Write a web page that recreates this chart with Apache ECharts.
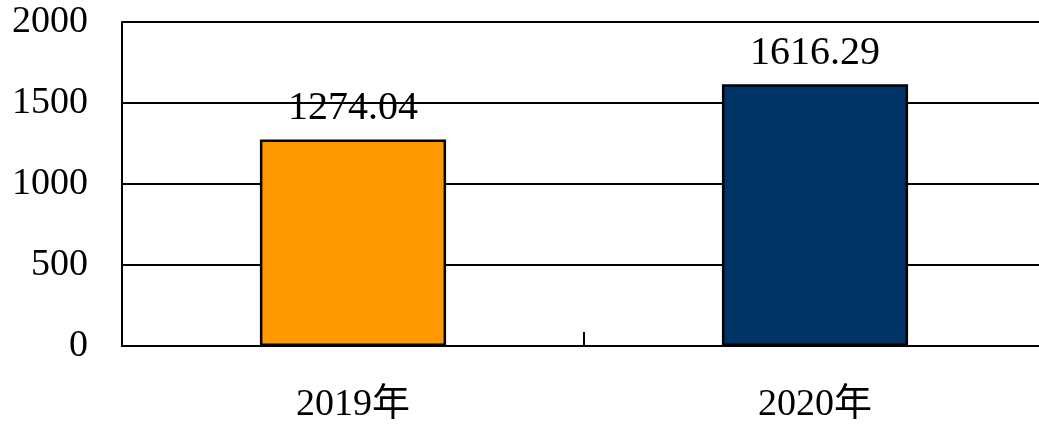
<!DOCTYPE html>
<html><head><meta charset="utf-8">
<script src="https://cdn.jsdelivr.net/npm/echarts@6/dist/echarts.min.js"></script>
<style>html,body{margin:0;padding:0;background:#fff}#c{width:1039px;height:426px}</style>
</head><body><div id="c"></div>
<script>
const categories = ['2019年', '2020年'];
const values = [1274.04, 1616.29];
const barColors = ['#FF9900', '#003366'];
const yTicks = [0, 500, 1000, 1500, 2000];

const font = '"Liberation Serif", "Noto Sans CJK SC", serif';
const chart = echarts.init(document.getElementById('c'), null, {renderer: 'canvas'});
chart.setOption({
  animation: false,
  grid: {left: 122, top: 22, width: 924, height: 324, containLabel: false, outerBoundsMode: 'none'},
  xAxis: {
    type: 'category', data: categories,
    axisLine: {show: true, lineStyle: {color: '#000', width: 2}},
    axisTick: {show: true, inside: true, length: 14, alignWithLabel: false, lineStyle: {color: '#000', width: 2}},
    axisLabel: {color: '#000', fontFamily: font, fontSize: 38, margin: 40},
    splitLine: {show: false}
  },
  yAxis: {
    type: 'value', min: yTicks[0], max: yTicks[yTicks.length - 1], interval: 500,
    axisLine: {show: true, lineStyle: {color: '#000', width: 2}},
    axisTick: {show: false},
    axisLabel: {color: '#000', fontFamily: font, fontSize: 38, margin: 34, formatter: v => String(v)},
    splitLine: {show: true, lineStyle: {color: '#000', width: 2}}
  },
  series: [{
    type: 'bar', barWidth: '40.3%',
    data: values.map((v, i) => ({value: v, itemStyle: {color: barColors[i], borderColor: '#000', borderWidth: 2.5}})),
    label: {show: true, position: 'top', distance: 11, color: '#000', fontFamily: font, fontSize: 40,
      formatter: p => p.value.toFixed(2)}
  }]
});
</script></body></html>
